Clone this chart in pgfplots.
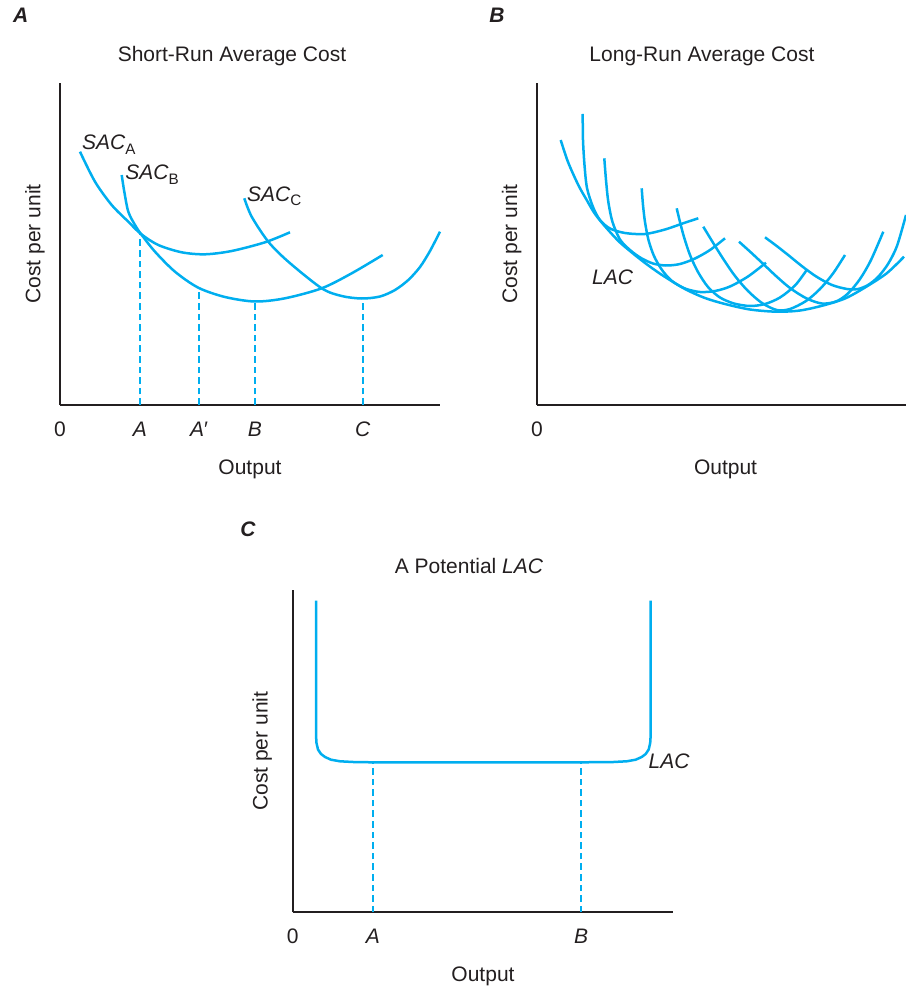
\documentclass[border=0pt]{standalone}
\usepackage{pgfplots}
\pgfplotsset{compat=1.18}
\usepackage{fontspec}
\setmainfont{Liberation Sans}
\setsansfont{Liberation Sans}
\definecolor{cy}{RGB}{0,174,239}
\definecolor{ink}{RGB}{35,31,32}
\newcommand{\fs}{\fontsize{10.5}{12.5}\selectfont}
\newcommand{\sub}[1]{\raisebox{-2.1pt}{\fontsize{7.6}{9}\selectfont #1}}
\pgfplotsset{
  panel/.style={
    scale only axis,
    axis lines=left,
    axis line style={-, line width=1pt, color=ink},
    xmin=0, ymin=0,
    ytick=\empty,
    major tick length=0pt,
    tick style={draw=none},
    ticklabel style={font=\fs, text=ink},
    xticklabel style={anchor=base, yshift=-15.6pt},
    label style={font=\fs, text=ink},
    every axis title shift=0pt,
    title style={font=\fs, text=ink, anchor=base},
    xlabel style={at={(axis description cs:0.5,0)}, anchor=base, yshift=-34.7pt},
    clip=false,
  },
  cur/.style={cy, line width=1.25pt, smooth, no markers, line cap=butt},
  dsh/.style={draw=cy, line width=0.8pt, dash pattern=on 3.3pt off 2pt, no markers},
}
\begin{document}
\begin{tikzpicture}
\useasboundingbox (0,0) rectangle (453pt,493.5pt);
% panel letters
\node[anchor=base west, inner sep=0, font=\fs\bfseries\itshape, text=ink] at (6.35pt,482.15pt) {A};
\node[anchor=base west, inner sep=0, font=\fs\bfseries\itshape, text=ink] at (244.5pt,482.15pt) {B};
\node[anchor=base west, inner sep=0, font=\fs\bfseries\itshape, text=ink] at (120pt,225.15pt) {C};

% ---------------- Panel A ----------------
\begin{axis}[panel, at={(30pt,291pt)}, anchor=south west,
  width=190pt, height=161.15pt, xmax=380, ymax=322.3,
  xtick={0,80,139,195,302.7},
  xticklabels={0,\textit{A},\textit{A}′,\textit{B},\textit{C}},
  xlabel={Output}, ylabel={Cost per unit},
  ylabel style={at={(axis description cs:-0.0658,0.5)}, anchor=center},
  title={Short-Run Average Cost},
  title style={at={(axis description cs:0.4526,1.065)}}]
% SAC_A
\addplot[cur] coordinates {(20,253.3) (35,223.3) (51.7,200) (68.3,183.3) (81,171) (98.3,160) (121.7,152.7) (145,150.7) (171.7,154) (205,162.7) (230,172.7)};
% SAC_B
\addplot[cur] coordinates {(61.7,230) (64.3,213.3) (68.3,193.3) (75,180) (81,171) (95,153.3) (115,133.3) (138.3,117.3) (165,108) (195,103.5) (225,106.7) (261.7,116.7) (291.7,131.7) (322.7,150)};
% SAC_C
\addplot[cur] coordinates {(184.3,206.7) (191.7,188.3) (208.3,163.3) (228.3,143.3) (261.7,116.7) (281.7,109) (301.7,106.5) (320,108.5) (335,115) (348.3,125) (360,138) (370,154) (380,173.3)};
% dashed drop lines
\addplot[dsh] coordinates {(80,0) (80,171)};
\addplot[dsh] coordinates {(139,0) (139,117.5)};
\addplot[dsh] coordinates {(195,0) (195,103.5)};
\addplot[dsh] coordinates {(302.7,0) (302.7,106.5)};
\node[anchor=base west, inner sep=0, font=\fs, text=ink] at (axis cs:21.7,255) {\textit{SAC}\sub{A}};
\node[anchor=base west, inner sep=0, font=\fs, text=ink] at (axis cs:65,225) {\textit{SAC}\sub{B}};
\node[anchor=base west, inner sep=0, font=\fs, text=ink] at (axis cs:186.7,203.3) {\textit{SAC}\sub{C}};
\end{axis}

% ---------------- Panel B ----------------
\begin{axis}[panel, at={(268.5pt,291pt)}, anchor=south west,
  width=184.5pt, height=161.15pt, xmax=369, ymax=322.3,
  xtick={0}, xticklabels={0},
  xlabel={Output}, ylabel={Cost per unit},
  ylabel style={at={(axis description cs:-0.0686,0.5)}, anchor=center},
  xlabel style={at={(axis description cs:0.511,0)}},
  title={Long-Run Average Cost},
  title style={at={(axis description cs:0.447,1.066)}}]
% LAC envelope
\addplot[cur] coordinates {(23.7,265) (31,243) (41.3,220) (49.7,205) (58,191) (69.7,176.7) (83,162.5) (99.7,148.5) (108,142) (125,130) (148,116) (168,107) (188,101) (213,95.5) (239.7,93.3) (263,94.5) (286,99.5) (308,106.5) (328,117.5) (349.7,131.7) (367,148.3)};
% SAC curves
\addplot[cur] coordinates {(45.7,291) (46,265) (47.5,240) (50,217) (56,198) (63,185) (73,176.5) (88,172) (108,171) (128,175.5) (147,182) (161.3,186.7)};
\addplot[cur] coordinates {(67.3,246.7) (69,225) (71.3,203.3) (75.5,183) (83,165.5) (93,155) (104,147) (116,141.5) (129,139.5) (143,141) (158,146.5) (173,155) (188,166.7)};
\addplot[cur] coordinates {(104.7,216.7) (106,200) (108,183) (111.5,165) (117,149) (125,135) (135,124) (148,116.5) (163,113) (178,114) (193,118.5) (211,128.5) (229,142.3)};
\addplot[cur] coordinates {(139.7,196.7) (143,183) (147,168) (153,150) (161,133) (171,118) (183,107.5) (197,101.5) (213,99) (228,101) (243,107.5) (258,119.5) (269.7,135)};
\addplot[cur] coordinates {(166.3,178.3) (175,164) (186.3,146) (198,129) (211,114) (225,102) (240,94.9) (253,96) (269,104) (283,116) (296,131.5) (308,150)};
\addplot[cur] coordinates {(202,163.3) (214,152.5) (226.3,141) (239,129) (253,117) (269.7,106.5) (285,101.5) (299,103.5) (311,111.5) (323,126) (334,145) (346.3,173.3)};
\addplot[cur] coordinates {(228,167.7) (241,158) (253,148.5) (266,138) (280,128) (295,120) (310,116) (321,116) (331,120) (341,128) (351,141) (360,159) (369,190)};
\node[anchor=base west, inner sep=0, font=\fs\itshape, text=ink] at (axis cs:54.7,120) {LAC};
\end{axis}

% ---------------- Panel C ----------------
\begin{axis}[panel, at={(146.35pt,37.35pt)}, anchor=south west,
  width=190.3pt, height=161.15pt, xmax=380.6, ymax=322.3,
  xtick={0,80.3,288.3},
  xticklabels={0,\textit{A},\textit{B}},
  xlabel={Output}, ylabel={Cost per unit},
  ylabel style={at={(axis description cs:-0.0799,0.5)}, anchor=center},
  title={A Potential \textit{LAC}},
  title style={at={(axis description cs:0.4632,1.052)}}]
\addplot[cy, line width=1.25pt, no markers, line join=round] coordinates {(23.3,311.6) (23.3,177.3) (23.8,169.3) (25.3,162.8) (28.3,158.3) (32.3,155.3) (38.3,152.6) (47.3,151) (62.3,150.2) (80.3,150) (288.3,150) (319,150.2) (334,151) (343,152.6) (349,155.3) (353,158.3) (356,162.8) (357.5,169.3) (358,177.3) (358,311.6)};
\addplot[dsh] coordinates {(80.3,0) (80.3,150)};
\addplot[dsh] coordinates {(288.3,0) (288.3,150)};
\node[anchor=base west, inner sep=0, font=\fs\itshape, text=ink] at (axis cs:355.6,144) {LAC};
\end{axis}
\end{tikzpicture}
\end{document}
